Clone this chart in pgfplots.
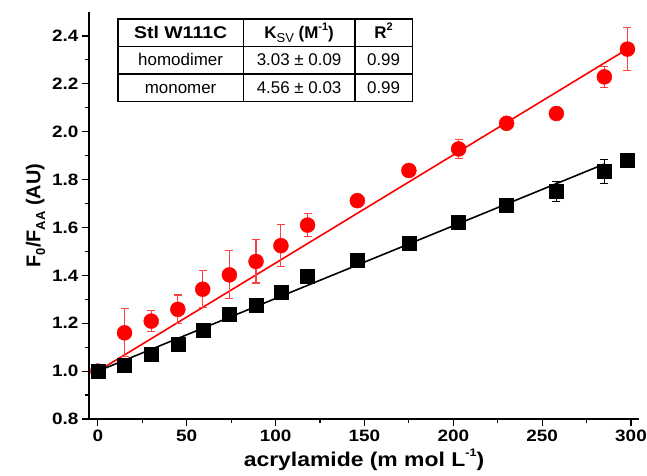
\documentclass[border=0pt]{standalone}
\usepackage{pgfplots}
\pgfplotsset{compat=1.18}
\usepackage{pgfplotstable}
\usepackage{fontspec}
\setmainfont{Liberation Sans}
\newfontfamily\wide{Liberation Sans}[FakeStretch=1.15]
\usepackage{array}
\usetikzlibrary{calc}

% homodimer (black squares)
\pgfplotstableread{
x y e
0 1.000 0.000
15 1.025 0.000
30 1.072 0.000
45 1.111 0.000
59 1.170 0.000
74 1.237 0.000
89 1.276 0.000
103 1.330 0.000
118 1.397 0.000
146 1.464 0.000
175 1.533 0.000
203 1.620 0.000
230 1.695 0.015
258 1.750 0.042
285 1.833 0.050
298 1.883 0.000
}\dimer

% monomer (red circles)
\pgfplotstableread{
x y e
0 1.000 0.010
15 1.160 0.100
30 1.209 0.045
45 1.258 0.060
59 1.342 0.077
74 1.402 0.100
89 1.458 0.090
103 1.524 0.087
118 1.610 0.048
146 1.712 0.010
175 1.838 0.010
203 1.928 0.040
230 2.035 0.015
258 2.076 0.010
285 2.229 0.044
298 2.345 0.090
}\monomer

\newcommand\sub[1]{\raisebox{-0.45ex}{\fontsize{13}{13}\selectfont #1}}
\newcommand\sups[1]{\raisebox{0.9ex}{\fontsize{11}{11}\selectfont #1}}

\begin{document}
\begin{tikzpicture}
\begin{axis}[scale only axis, width=550bp, height=407bp,
  xmin=-5, xmax=304.5, ymin=0.8, ymax=2.5,
  axis x line=bottom, axis y line=left, axis line style={-, line width=1.3bp},
  tick align=outside, major tick length=7bp, minor tick length=4bp,
  every tick/.style={line width=1.2bp, black},
  xtick={0,50,...,300}, ytick={0.8,1.0,...,2.41}, minor tick num=1,
  yticklabel style={/pgf/number format/.cd, fixed, fixed zerofill, precision=1},
  /pgf/number format/assume math mode=true,
  tick label style={font=\wide\bfseries\fontsize{16.5}{16.5}\selectfont},
  xlabel={\wide\bfseries\fontsize{20}{20}\selectfont acrylamide (m mol L\sups{-1})},
  ylabel={\bfseries\fontsize{20}{20}\selectfont F\sub{0}/F\sub{AA} (AU)},
  xlabel style={yshift=-1bp}, ylabel style={yshift=0bp},
  clip=false]
\addplot[red, line width=1.6bp] coordinates {(0,1.0) (299,2.35)};
\addplot[only marks, mark=*, mark size=7.5bp, red,
  error bars/.cd, y dir=both, y explicit,
  error bar style={line width=1.1bp, red!75!white},
  error mark options={rotate=90, mark size=4bp, line width=1.1bp, red!75!white}]
  table[x=x, y=y, y error=e] {\monomer};
\addplot[black, line width=1.6bp] coordinates {(0,1.0) (285,1.865)};
\addplot[only marks, mark=square*, mark size=7bp, black,
  error bars/.cd, y dir=both, y explicit,
  error bar style={line width=1.1bp, black},
  error mark options={rotate=90, mark size=4bp, line width=1.1bp, black}]
  table[x=x, y=y, y error=e] {\dimer};
\node[anchor=north west, inner sep=0pt] at (axis cs:10.7,2.475) {%
  \fontsize{17}{17}\selectfont
  \setlength{\arrayrulewidth}{1.5bp}\setlength{\tabcolsep}{0pt}%
  \begin{tabular}{|>{\centering\arraybackslash}p{124bp}|>{\centering\arraybackslash}p{110bp}|>{\centering\arraybackslash}p{56bp}|}
  \hline
  \rule[-7.5bp]{0pt}{26bp}\textbf{\wide Stl W111C} & \textbf{K}\sub{SV} \textbf{(M\sups{-1})} & \textbf{R\sups{2}} \\ \hline
  \rule[-7.5bp]{0pt}{26bp}homodimer & 3.03 ± 0.09 & 0.99 \\ \hline
  \rule[-7.5bp]{0pt}{26bp}monomer & 4.56 ± 0.03 & 0.99 \\ \hline
  \end{tabular}};
\end{axis}
\pgfresetboundingbox
\path[use as bounding box] ($(current axis.south west)+(-89bp,-57bp)$) rectangle ($(current axis.north east)+(8bp,12bp)$);
\end{tikzpicture}
\end{document}
